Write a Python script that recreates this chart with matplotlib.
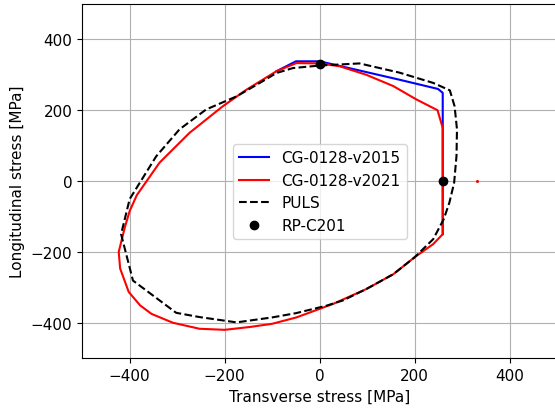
import matplotlib
matplotlib.use("Agg")
import matplotlib.pyplot as plt

# CG-0128-v2021 (red), closed curve
v2021_x = [0, 42, 98, 155, 204, 248, 259, 259, 239, 200, 155, 98, 28, -49,
           -100, -147, -200, -253, -309, -354, -378, -402, -420, -423, -410,
           -400, -385, -337, -274, -204, -154, -91, -49, 0]
v2021_y = [332, 324, 300, 268, 230, 200, 150, -150, -178, -215, -263, -305, -347, -385,
           -403, -412, -420, -417, -400, -375, -351, -313, -247, -200, -130,
           -85, -40, 52, 136, 211, 258, 310, 333, 332]

# CG-0128-v2015 (blue), differs only in the top right
v2015_x = [0, 168, 249, 259, 259, 259]
v2015_y = [338, 286, 260, 249, 153, -150]
v2015_top_x = [-91, -50, 0]
v2015_top_y = [310, 338, 338]

# PULS (black dashed)
puls_x = [0, 84, 168, 239, 274, 284, 289, 288, 283, 273, 261, 239, 200, 155, 98, 49, 14,
          -50, -100, -175, -253, -302, -393, -418, -400, -344, -295, -239, -175, -126, -91,
          -56, 0]
puls_y = [326, 332, 306, 277, 256, 211, 146, 71, -5, -61, -108, -164, -215, -263, -305, -337, -352,
          -373, -385, -399, -384, -372, -281, -150, -51, 70, 146, 202, 239, 277, 305,
          319, 326]

# RP-C201 points
rp_x = [0, 260]
rp_y = [330, 0]

plt.rcParams['font.size'] = 11

fig = plt.figure(figsize=(5.55, 4.1), dpi=100)
ax = fig.add_axes([0.148, 0.124, 0.856, 0.864])

ax.plot(v2015_x, v2015_y, color='blue', lw=1.5, label='CG-0128-v2015')
ax.plot(v2015_top_x, v2015_top_y, color='blue', lw=1.5)
ax.plot(v2021_x, v2021_y, color='red', lw=1.5, label='CG-0128-v2021')
ax.plot([332], [0], 'o', color='red', markersize=1.2)
ax.plot(puls_x, puls_y, 'k--', lw=1.5, label='PULS')
ax.plot(rp_x, rp_y, 'ko', markersize=6, label='RP-C201')

ax.set_xlim(-500, 500)
ax.set_ylim(-500, 500)
ax.set_xticks([-400, -200, 0, 200, 400])
ax.set_yticks([-400, -200, 0, 200, 400])
ax.grid(True)
ax.set_xlabel('Transverse stress [MPa]')
ax.set_ylabel('Longitudinal stress [MPa]')
ax.legend(loc='center', bbox_to_anchor=(0.5, 0.47))

fig.savefig('out.png', dpi=100)
